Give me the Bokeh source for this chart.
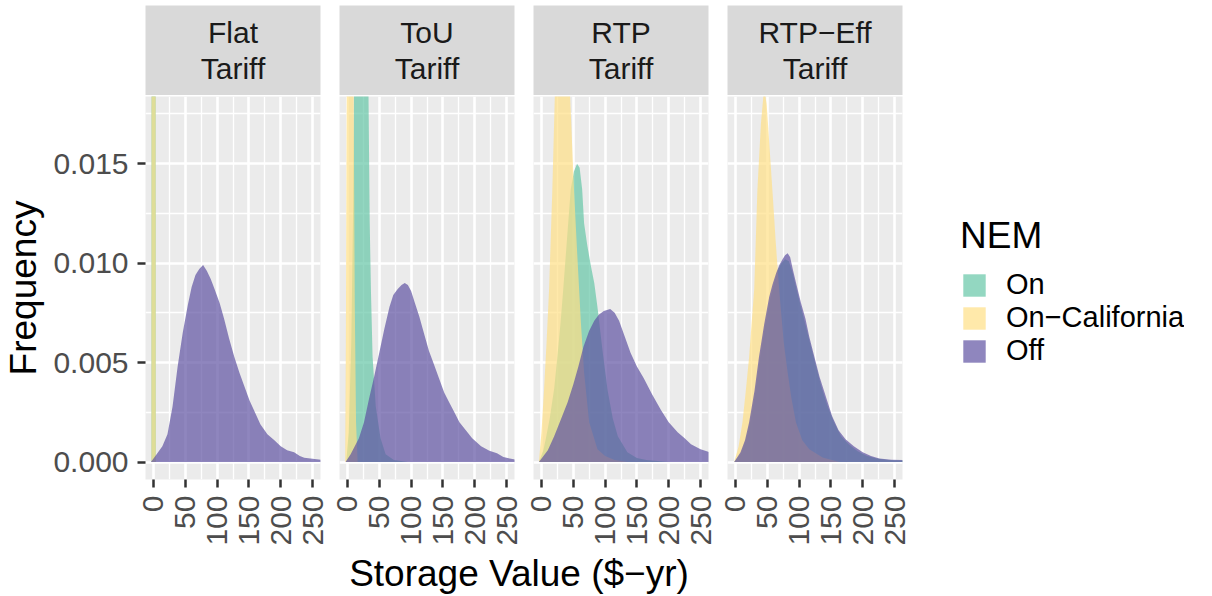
import math
from bokeh.plotting import figure
from bokeh.layouts import row, column
from bokeh.models import FixedTicker, Range1d, Legend, LegendItem, PrintfTickFormatter
from bokeh.core.properties import value
from bokeh.embed import file_html
from bokeh.resources import INLINE

FONT = "Liberation Sans"

facet_labels = ["Flat\nTariff", "ToU\nTariff", "RTP\nTariff", "RTP\u2212Eff\nTariff"]
nem_levels = ["On", "On\u2212California", "Off"]
nem_colors = ["#65C6A6", "#FFDF86", "#6052A2"]
fill_alpha = 0.7

x_breaks = [0, 50, 100, 150, 200, 250]
x_minor_breaks = [25, 75, 125, 175, 225]
y_breaks = [0.0, 0.005, 0.010, 0.015]
y_minor_breaks = [0.0025, 0.0075, 0.0125, 0.0175]
x_limits = (0, 250)
y_limits = (0, 0.0175)

# ---- Flat tariff ----
flat_on_x = [-3.2, -2.6, 0.2, 3.0, 3.6]
flat_on_y = [0, 0.06, 0.12, 0.06, 0]
flat_oncal_x = [-3.2, -2.6, 0.2, 3.0, 3.6]
flat_oncal_y = [0, 0.06, 0.12, 0.06, 0]
flat_off_x = [-4, 5, 14, 22, 30, 38, 46, 54, 60, 66, 72, 78, 84, 90, 96, 104, 111, 119,
              127, 135, 143, 151, 158, 168, 179, 190, 200, 210, 221, 230, 237, 250, 263]
flat_off_y = [0, 0.0004, 0.0008, 0.0014, 0.0028, 0.0048, 0.0065, 0.0079, 0.0088, 0.0094,
              0.0097, 0.0099, 0.0096, 0.0092, 0.0087, 0.0080, 0.0072, 0.0062, 0.0053,
              0.0045, 0.0038, 0.0031, 0.0026, 0.0019, 0.0014, 0.0011, 0.0008, 0.0006,
              0.0005, 0.0003, 0.00022, 0.00017, 0.00012]

# ---- ToU tariff ----
tou_on_x = [-2, 2, 6, 9, 12, 16, 22, 28, 32, 35, 37, 39.5, 44.5, 52, 60, 73, 95]
tou_on_y = [0, 0.0015, 0.006, 0.013, 0.026, 0.036, 0.04, 0.034, 0.022, 0.012, 0.0085,
            0.0053, 0.0028, 0.0012, 0.0004, 0.0001, 0]
tou_oncal_x = [-3.5, -2.5, -1.5, 1, 4, 7, 9.5, 11.5, 13.5, 16]
tou_oncal_y = [0, 0.006, 0.016, 0.035, 0.045, 0.035, 0.02, 0.008, 0.002, 0]
tou_off_x = [-3, 5, 18, 26, 34, 42, 50, 58, 66, 72, 79, 85, 90, 95, 100, 106, 113, 120,
             128, 136, 144, 152, 160, 168, 176, 186, 196, 210, 223, 235, 245, 255, 265]
tou_off_y = [0, 0.0004, 0.0012, 0.002, 0.0032, 0.0043, 0.0055, 0.0067, 0.0078, 0.0084,
             0.0087, 0.0089, 0.009, 0.0089, 0.0086, 0.0080, 0.0073, 0.0065, 0.0056,
             0.0049, 0.0042, 0.0035, 0.0030, 0.0025, 0.0020, 0.0016, 0.0012, 0.0008,
             0.00057, 0.00045, 0.00025, 0.00018, 0.00012]

# ---- RTP tariff ----
rtp_on_x = [-4, 3, 7, 13, 20, 25, 30, 34, 38, 42, 46, 51, 56, 60, 64, 67, 72, 78, 83, 88,
            96, 104, 112, 120, 135, 150, 165, 200]
rtp_on_y = [0, 0.0006, 0.0012, 0.0022, 0.0037, 0.0053, 0.007, 0.0086, 0.0103, 0.012,
            0.0137, 0.0146, 0.015, 0.0148, 0.0137, 0.012, 0.0109, 0.0098, 0.009, 0.0078,
            0.0056, 0.0036, 0.0022, 0.0013, 0.0005, 0.0002, 0.0001, 0]
rtp_oncal_x = [-4, 0, 4, 8, 12, 17, 21, 26, 33, 40, 45, 51, 56, 62, 67, 75, 88, 100, 115, 135]
rtp_oncal_y = [0, 0.0015, 0.0036, 0.006, 0.0087, 0.0136, 0.0184, 0.023, 0.026, 0.0235,
               0.0184, 0.0138, 0.0106, 0.007, 0.0045, 0.002, 0.00065, 0.0003, 0.0001, 0]
rtp_off_x = [-4, 10, 20, 30, 41, 50, 58, 66, 75, 83, 90, 98, 108, 115, 122, 131, 140, 150,
             161, 174, 188, 200, 214, 225, 235, 250, 264]
rtp_off_y = [0, 0.0006, 0.0013, 0.0021, 0.003, 0.0039, 0.0048, 0.0058, 0.0066, 0.0071,
             0.0074, 0.0076, 0.0077, 0.0075, 0.0071, 0.0063, 0.0055, 0.0048, 0.0042,
             0.0034, 0.0026, 0.002, 0.0015, 0.0012, 0.0009, 0.00065, 0.0005]

# ---- RTP-Eff tariff ----
eff_on_x = [-2, 8, 15, 22, 30, 37, 45, 53, 60, 66, 72, 78, 84, 90, 96, 103, 110, 118, 126,
            135, 145, 155, 166, 178, 192, 206, 222, 240, 263]
eff_on_y = [0, 0.0004, 0.001, 0.0018, 0.0033, 0.0049, 0.0066, 0.008, 0.0089, 0.0096,
            0.01, 0.0102, 0.0101, 0.0095, 0.0087, 0.0078, 0.0069, 0.0059, 0.0049, 0.0038,
            0.0028, 0.002, 0.0013, 0.0009, 0.00055, 0.00032, 0.00018, 0.0001, 0.00008]
eff_oncal_x = [-2, 5, 11, 16, 21.5, 25, 29.5, 34.5, 40, 45, 49, 53, 58, 63, 67, 71, 76, 82,
               88, 95, 105, 116, 137, 163]
eff_oncal_y = [0, 0.0008, 0.002, 0.0035, 0.0053, 0.0068, 0.0087, 0.0137, 0.017, 0.0188,
               0.018, 0.0161, 0.0137, 0.0112, 0.0094, 0.0078, 0.006, 0.0045, 0.0032, 0.002,
               0.0011, 0.00065, 0.00023, 0]
eff_off_x = [-2, 8, 15, 21.5, 30, 37, 45, 53, 58, 64, 69, 74, 78, 82, 86, 90, 96, 103, 110,
             116, 124, 132, 142, 152, 162, 173, 186, 200, 213, 226, 245, 263]
eff_off_y = [0, 0.0005, 0.0011, 0.002, 0.0036, 0.0053, 0.0069, 0.0083, 0.0089, 0.0095,
             0.0099, 0.0102, 0.0104, 0.0105, 0.0103, 0.0097, 0.0089, 0.008, 0.0072, 0.0063,
             0.0053, 0.0043, 0.0033, 0.0023, 0.0016, 0.00115, 0.0008, 0.0005, 0.0003,
             0.00018, 0.00012, 0.0001]

panel_data = [
    [(flat_on_x, flat_on_y), (flat_oncal_x, flat_oncal_y), (flat_off_x, flat_off_y)],
    [(tou_on_x, tou_on_y), (tou_oncal_x, tou_oncal_y), (tou_off_x, tou_off_y)],
    [(rtp_on_x, rtp_on_y), (rtp_oncal_x, rtp_oncal_y), (rtp_off_x, rtp_off_y)],
    [(eff_on_x, eff_on_y), (eff_oncal_x, eff_oncal_y), (eff_off_x, eff_off_y)],
]

# ggplot-like 5% expansion
xpad = 0.05 * (x_limits[1] - x_limits[0])
ypad = 0.05 * (y_limits[1] - y_limits[0])
X_LO, X_HI = x_limits[0] - xpad, x_limits[1] + xpad
Y_LO, Y_HI = y_limits[0] - ypad, y_limits[1] + ypad

FRAME_W, FRAME_H, STRIP_H = 175, 383, 90
LEFT0, GAP_L, GAP_R = 140, 9, 10
BOTTOM = 70
XTITLE_H = 46


def borders(k):
    return dict(min_border_left=LEFT0 if k == 0 else GAP_L, min_border_right=GAP_R)


def make_strip(k):
    s = figure(frame_width=FRAME_W, frame_height=STRIP_H, title=None,
               x_range=Range1d(0, 1), y_range=Range1d(0, 1),
               x_axis_location=None, y_axis_location=None,
               min_border_top=5, min_border_bottom=0, **borders(k),
               background_fill_color="#D9D9D9", border_fill_color="white",
               outline_line_color=None, output_backend="svg", toolbar_location=None)
    s.grid.visible = False
    s.text(x=[0.5], y=[0.5], text=[facet_labels[k]], text_align="center",
           text_baseline="middle", text_font=value(FONT), text_font_size="30px",
           text_color="#1A1A1A", text_line_height=1.09)
    return s


def make_panel(k):
    first = (k == 0)
    p = figure(frame_width=FRAME_W, frame_height=FRAME_H, title=None,
               x_range=Range1d(X_LO, X_HI), y_range=Range1d(Y_LO, Y_HI),
               y_axis_location="left" if first else None,
               min_border_top=1, min_border_bottom=BOTTOM, **borders(k),
               background_fill_color="#EBEBEB", border_fill_color="white",
               outline_line_color=None, output_backend="svg", toolbar_location=None)
    p.xgrid.ticker = FixedTicker(ticks=x_breaks, minor_ticks=x_minor_breaks)
    p.ygrid.ticker = FixedTicker(ticks=y_breaks, minor_ticks=y_minor_breaks)
    for g in list(p.xgrid) + list(p.ygrid):
        g.grid_line_color = "white"
        g.grid_line_width = 2.6
        g.minor_grid_line_color = "white"
        g.minor_grid_line_width = 1.3

    axes = list(p.xaxis) + (list(p.yaxis) if first else [])
    for ax in axes:
        ax.axis_line_color = None
        ax.major_tick_line_color = "#333333"
        ax.major_tick_line_width = 2.5
        ax.major_tick_out = 8
        ax.major_tick_in = 0
        ax.minor_tick_line_color = None
        ax.major_label_text_font = FONT
        ax.major_label_text_font_size = "30px"
        ax.major_label_text_color = "#4D4D4D"
    p.xaxis.ticker = FixedTicker(ticks=x_breaks)
    p.xaxis.major_label_orientation = math.pi / 2
    p.xaxis.major_label_standoff = 8
    if first:
        ya = p.yaxis[0]
        ya.ticker = FixedTicker(ticks=y_breaks)
        ya.formatter = PrintfTickFormatter(format="%.3f")
        ya.major_label_standoff = 9
        ya.axis_label = "Frequency"
        ya.axis_label_text_font = FONT
        ya.axis_label_text_font_size = "37px"
        ya.axis_label_text_font_style = "normal"
        ya.axis_label_text_color = "black"
        ya.axis_label_standoff = 6

    for (xs, ys), c in zip(panel_data[k], nem_colors):
        p.varea(x=xs, y1=0, y2=ys, fill_color=c, fill_alpha=fill_alpha)
    return p


cols = []
for k in range(4):
    cols.append(column(make_strip(k), make_panel(k)))

# legend figure: hidden copies of the RTP-Eff areas serve as legend keys
lf = figure(frame_width=272, frame_height=5 + STRIP_H + 1 + FRAME_H, title=None,
            x_range=Range1d(X_LO, X_HI), y_range=Range1d(Y_LO, Y_HI),
            x_axis_location=None, y_axis_location=None,
            min_border_left=0, min_border_right=0, min_border_top=0, min_border_bottom=0,
            outline_line_color=None, background_fill_color="white",
            border_fill_color="white", output_backend="svg", toolbar_location=None)
lf.grid.visible = False
items = []
for name, (xs, ys), c in zip(nem_levels, panel_data[3], nem_colors):
    r = lf.varea(x=xs, y1=0, y2=ys, fill_color=c, fill_alpha=fill_alpha, visible=False)
    items.append(LegendItem(label=name, renderers=[r]))
legend = Legend(items=items, location=(48, 112), title="NEM",
                title_text_font=FONT, title_text_font_size="37px",
                title_text_font_style="normal", title_text_color="black",
                title_standoff=11,
                label_text_font=FONT, label_text_font_size="29px",
                label_text_color="black", label_standoff=18,
                glyph_width=28, glyph_height=28, label_height=28,
                spacing=0, padding=0, margin=0,
                border_line_color=None, background_fill_alpha=0)
lf.add_layout(legend, "center")

# x-axis title figure
xf = figure(frame_width=FRAME_W * 4 + (GAP_L + GAP_R) * 3, frame_height=XTITLE_H, title=None,
            x_range=Range1d(0, 1), y_range=Range1d(0, XTITLE_H),
            x_axis_location=None, y_axis_location=None,
            min_border_left=LEFT0, min_border_right=0, min_border_top=0, min_border_bottom=0,
            outline_line_color=None, background_fill_alpha=0, border_fill_alpha=0,
            output_backend="svg", toolbar_location=None)
xf.grid.visible = False
xf.text(x=[0.5], y=[XTITLE_H - 3], text=["Storage Value ($\u2212yr)"], text_align="center",
        text_baseline="top", text_font=value(FONT), text_font_size="37px",
        text_color="black")

layout = column(row(*cols, lf), xf)

with open("out.html", "w") as f:
    f.write(file_html(layout, INLINE))
